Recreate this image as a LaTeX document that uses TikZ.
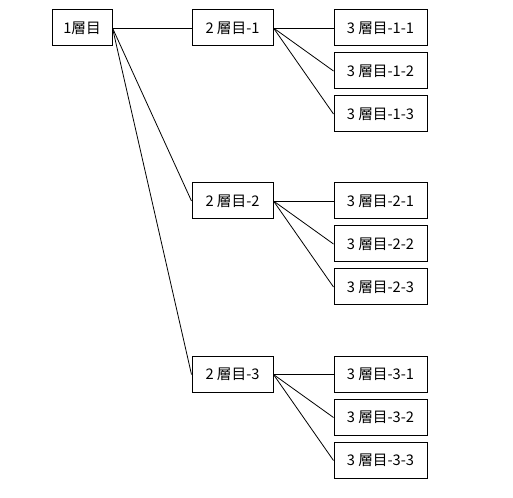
\documentclass[tikz,border=0pt]{standalone}
\usepackage{fontspec}
\usepackage{tikz}
\usetikzlibrary{positioning}
\newfontfamily\jpfont{Noto Sans CJK JP}
\tikzset{
  box/.style={draw=black,line width=0.75pt,minimum height=36*0.75pt,inner sep=0pt,font=\jpfont\fontsize{11}{13}\selectfont},
  boxa/.style={box,minimum width=60*0.75pt},
  boxb/.style={box,minimum width=81*0.75pt},
  boxc/.style={box,minimum width=93*0.75pt},
  link/.style={draw=black,line width=0.6pt}
}
\begin{document}
\begin{tikzpicture}[x=0.75pt,y=-0.75pt]
\path[use as bounding box] (0,0) rectangle (513,498);

% level 1
\node[boxa] (top) at (82,28) {1層目};

% level 2 and 3
\foreach \i/\y in {1/28,2/201,3/374.5}{
  \node[boxb] (mid\i) at (232.5,\y) {2 層目-\i};
  \draw[link] (top.east) -- (mid\i.west);
  \foreach \j in {1,2,3}{
    \node[boxc] (leaf\i\j) at (380.5,\y+43*\j-43) {3 層目-\i-\j};
    \draw[link] (mid\i.east) -- (leaf\i\j.west);
  }
}
\end{tikzpicture}
\end{document}
